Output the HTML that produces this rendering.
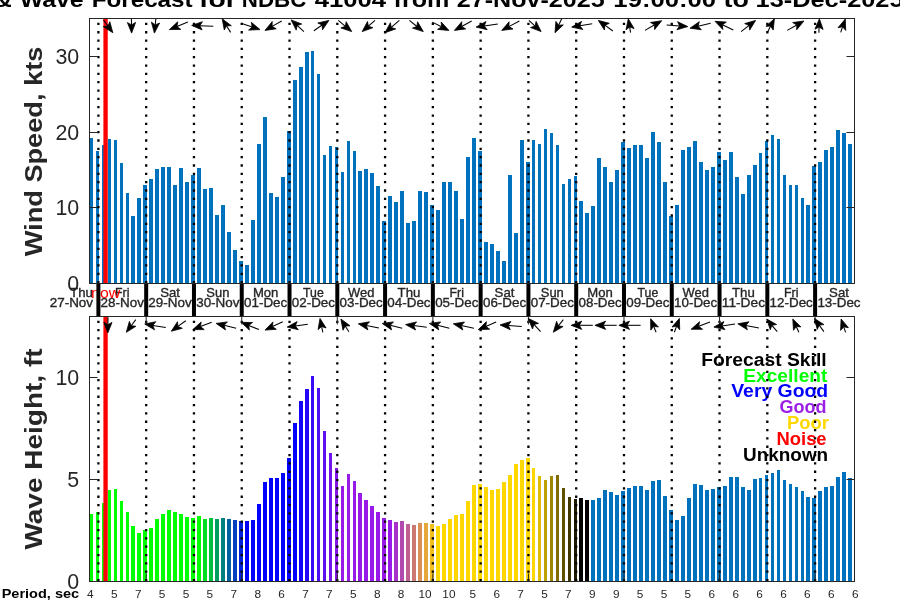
<!DOCTYPE html><html><head><meta charset="utf-8"><style>html,body{margin:0;padding:0;background:#fff;width:900px;height:600px;overflow:hidden}</style></head><body><svg width="900" height="600" viewBox="0 0 900 600" style="display:block;will-change:transform"><rect width="900" height="600" fill="#fff"/><g shape-rendering="crispEdges"><rect x="90" y="137.8" width="3" height="145.2" fill="#0072bd"/><rect x="96" y="150.8" width="3" height="132.2" fill="#0072bd"/><rect x="102" y="145.0" width="3" height="138.0" fill="#0072bd"/><rect x="108" y="139.0" width="3" height="144.0" fill="#0072bd"/><rect x="114" y="140.0" width="3" height="143.0" fill="#0072bd"/><rect x="120" y="163.0" width="3" height="120.0" fill="#0072bd"/><rect x="126" y="193.0" width="3" height="90.0" fill="#0072bd"/><rect x="131" y="216.0" width="4" height="67.0" fill="#0072bd"/><rect x="137" y="198.0" width="4" height="85.0" fill="#0072bd"/><rect x="143" y="185.0" width="4" height="98.0" fill="#0072bd"/><rect x="149" y="179.0" width="4" height="104.0" fill="#0072bd"/><rect x="155" y="169.0" width="4" height="114.0" fill="#0072bd"/><rect x="161" y="167.0" width="4" height="116.0" fill="#0072bd"/><rect x="167" y="167.0" width="4" height="116.0" fill="#0072bd"/><rect x="173" y="185.0" width="4" height="98.0" fill="#0072bd"/><rect x="179" y="168.0" width="4" height="115.0" fill="#0072bd"/><rect x="185" y="182.0" width="4" height="101.0" fill="#0072bd"/><rect x="191" y="175.0" width="4" height="108.0" fill="#0072bd"/><rect x="197" y="168.0" width="4" height="115.0" fill="#0072bd"/><rect x="203" y="189.0" width="4" height="94.0" fill="#0072bd"/><rect x="209" y="188.0" width="4" height="95.0" fill="#0072bd"/><rect x="215" y="215.0" width="4" height="68.0" fill="#0072bd"/><rect x="221" y="205.0" width="4" height="78.0" fill="#0072bd"/><rect x="227" y="232.0" width="4" height="51.0" fill="#0072bd"/><rect x="233" y="250.0" width="4" height="33.0" fill="#0072bd"/><rect x="239" y="261.0" width="4" height="22.0" fill="#0072bd"/><rect x="245" y="265.0" width="4" height="18.0" fill="#0072bd"/><rect x="251" y="220.0" width="4" height="63.0" fill="#0072bd"/><rect x="257" y="144.0" width="4" height="139.0" fill="#0072bd"/><rect x="263" y="117.0" width="4" height="166.0" fill="#0072bd"/><rect x="269" y="193.0" width="4" height="90.0" fill="#0072bd"/><rect x="275" y="197.0" width="4" height="86.0" fill="#0072bd"/><rect x="281" y="177.0" width="4" height="106.0" fill="#0072bd"/><rect x="287" y="131.0" width="4" height="152.0" fill="#0072bd"/><rect x="293" y="80.0" width="4" height="203.0" fill="#0072bd"/><rect x="299" y="66.8" width="4" height="216.2" fill="#0072bd"/><rect x="305" y="52.0" width="4" height="231.0" fill="#0072bd"/><rect x="311" y="51.0" width="3" height="232.0" fill="#0072bd"/><rect x="317" y="74.0" width="3" height="209.0" fill="#0072bd"/><rect x="323" y="155.0" width="3" height="128.0" fill="#0072bd"/><rect x="329" y="146.0" width="3" height="137.0" fill="#0072bd"/><rect x="335" y="147.0" width="3" height="136.0" fill="#0072bd"/><rect x="341" y="172.0" width="3" height="111.0" fill="#0072bd"/><rect x="347" y="141.0" width="3" height="142.0" fill="#0072bd"/><rect x="353" y="151.0" width="3" height="132.0" fill="#0072bd"/><rect x="358" y="171.0" width="4" height="112.0" fill="#0072bd"/><rect x="364" y="169.0" width="4" height="114.0" fill="#0072bd"/><rect x="370" y="173.0" width="4" height="110.0" fill="#0072bd"/><rect x="376" y="186.0" width="4" height="97.0" fill="#0072bd"/><rect x="382" y="221.0" width="4" height="62.0" fill="#0072bd"/><rect x="388" y="196.0" width="4" height="87.0" fill="#0072bd"/><rect x="394" y="202.0" width="4" height="81.0" fill="#0072bd"/><rect x="400" y="191.0" width="4" height="92.0" fill="#0072bd"/><rect x="406" y="223.0" width="4" height="60.0" fill="#0072bd"/><rect x="412" y="221.0" width="4" height="62.0" fill="#0072bd"/><rect x="418" y="191.0" width="4" height="92.0" fill="#0072bd"/><rect x="424" y="192.0" width="4" height="91.0" fill="#0072bd"/><rect x="430" y="205.0" width="4" height="78.0" fill="#0072bd"/><rect x="436" y="210.0" width="4" height="73.0" fill="#0072bd"/><rect x="442" y="182.0" width="4" height="101.0" fill="#0072bd"/><rect x="448" y="182.0" width="4" height="101.0" fill="#0072bd"/><rect x="454" y="191.0" width="4" height="92.0" fill="#0072bd"/><rect x="460" y="219.0" width="4" height="64.0" fill="#0072bd"/><rect x="466" y="157.0" width="4" height="126.0" fill="#0072bd"/><rect x="472" y="138.0" width="4" height="145.0" fill="#0072bd"/><rect x="478" y="151.0" width="4" height="132.0" fill="#0072bd"/><rect x="484" y="242.0" width="4" height="41.0" fill="#0072bd"/><rect x="490" y="244.0" width="4" height="39.0" fill="#0072bd"/><rect x="496" y="251.0" width="4" height="32.0" fill="#0072bd"/><rect x="502" y="261.0" width="4" height="22.0" fill="#0072bd"/><rect x="508" y="175.0" width="4" height="108.0" fill="#0072bd"/><rect x="514" y="233.0" width="4" height="50.0" fill="#0072bd"/><rect x="520" y="140.0" width="4" height="143.0" fill="#0072bd"/><rect x="526" y="162.0" width="4" height="121.0" fill="#0072bd"/><rect x="532" y="140.0" width="3" height="143.0" fill="#0072bd"/><rect x="538" y="144.0" width="3" height="139.0" fill="#0072bd"/><rect x="544" y="129.0" width="3" height="154.0" fill="#0072bd"/><rect x="550" y="133.0" width="3" height="150.0" fill="#0072bd"/><rect x="556" y="145.0" width="3" height="138.0" fill="#0072bd"/><rect x="562" y="184.0" width="3" height="99.0" fill="#0072bd"/><rect x="568" y="179.0" width="3" height="104.0" fill="#0072bd"/><rect x="574" y="176.0" width="3" height="107.0" fill="#0072bd"/><rect x="579" y="201.0" width="4" height="82.0" fill="#0072bd"/><rect x="585" y="213.0" width="4" height="70.0" fill="#0072bd"/><rect x="591" y="206.0" width="4" height="77.0" fill="#0072bd"/><rect x="597" y="158.0" width="4" height="125.0" fill="#0072bd"/><rect x="603" y="167.0" width="4" height="116.0" fill="#0072bd"/><rect x="609" y="182.0" width="4" height="101.0" fill="#0072bd"/><rect x="615" y="170.0" width="4" height="113.0" fill="#0072bd"/><rect x="621" y="142.0" width="4" height="141.0" fill="#0072bd"/><rect x="627" y="148.0" width="4" height="135.0" fill="#0072bd"/><rect x="633" y="145.0" width="4" height="138.0" fill="#0072bd"/><rect x="639" y="145.0" width="4" height="138.0" fill="#0072bd"/><rect x="645" y="158.0" width="4" height="125.0" fill="#0072bd"/><rect x="651" y="132.0" width="4" height="151.0" fill="#0072bd"/><rect x="657" y="142.0" width="4" height="141.0" fill="#0072bd"/><rect x="663" y="182.0" width="4" height="101.0" fill="#0072bd"/><rect x="669" y="216.0" width="4" height="67.0" fill="#0072bd"/><rect x="675" y="205.0" width="4" height="78.0" fill="#0072bd"/><rect x="681" y="150.0" width="4" height="133.0" fill="#0072bd"/><rect x="687" y="147.0" width="4" height="136.0" fill="#0072bd"/><rect x="693" y="141.0" width="4" height="142.0" fill="#0072bd"/><rect x="699" y="162.0" width="4" height="121.0" fill="#0072bd"/><rect x="705" y="170.0" width="4" height="113.0" fill="#0072bd"/><rect x="711" y="167.0" width="4" height="116.0" fill="#0072bd"/><rect x="717" y="152.0" width="4" height="131.0" fill="#0072bd"/><rect x="723" y="160.0" width="4" height="123.0" fill="#0072bd"/><rect x="729" y="152.0" width="4" height="131.0" fill="#0072bd"/><rect x="735" y="177.0" width="4" height="106.0" fill="#0072bd"/><rect x="741" y="194.0" width="4" height="89.0" fill="#0072bd"/><rect x="747" y="175.0" width="4" height="108.0" fill="#0072bd"/><rect x="753" y="165.0" width="4" height="118.0" fill="#0072bd"/><rect x="759" y="153.0" width="3" height="130.0" fill="#0072bd"/><rect x="765" y="141.0" width="3" height="142.0" fill="#0072bd"/><rect x="771" y="135.0" width="3" height="148.0" fill="#0072bd"/><rect x="777" y="139.0" width="3" height="144.0" fill="#0072bd"/><rect x="783" y="175.0" width="3" height="108.0" fill="#0072bd"/><rect x="789" y="185.0" width="3" height="98.0" fill="#0072bd"/><rect x="795" y="185.0" width="3" height="98.0" fill="#0072bd"/><rect x="801" y="198.0" width="3" height="85.0" fill="#0072bd"/><rect x="806" y="205.0" width="4" height="78.0" fill="#0072bd"/><rect x="812" y="166.0" width="4" height="117.0" fill="#0072bd"/><rect x="818" y="162.0" width="4" height="121.0" fill="#0072bd"/><rect x="824" y="150.0" width="4" height="133.0" fill="#0072bd"/><rect x="830" y="147.0" width="4" height="136.0" fill="#0072bd"/><rect x="836" y="130.0" width="4" height="153.0" fill="#0072bd"/><rect x="842" y="133.0" width="4" height="150.0" fill="#0072bd"/><rect x="848" y="144.0" width="4" height="139.0" fill="#0072bd"/><rect x="90" y="514.0" width="3" height="67.0" fill="#00ff00"/><rect x="96" y="512.0" width="3" height="69.0" fill="#00ff00"/><rect x="102" y="503.0" width="3" height="78.0" fill="#00ff00"/><rect x="108" y="490.0" width="3" height="91.0" fill="#00ff00"/><rect x="114" y="489.0" width="3" height="92.0" fill="#00ff00"/><rect x="120" y="501.0" width="3" height="80.0" fill="#00ff00"/><rect x="126" y="512.0" width="3" height="69.0" fill="#00ff00"/><rect x="131" y="526.0" width="4" height="55.0" fill="#00ff00"/><rect x="137" y="533.0" width="4" height="48.0" fill="#00ff00"/><rect x="143" y="530.0" width="4" height="51.0" fill="#00ff00"/><rect x="149" y="528.0" width="4" height="53.0" fill="#00ff00"/><rect x="155" y="519.0" width="4" height="62.0" fill="#00ff00"/><rect x="161" y="514.0" width="4" height="67.0" fill="#00ff00"/><rect x="167" y="510.0" width="4" height="71.0" fill="#00ff00"/><rect x="173" y="512.0" width="4" height="69.0" fill="#00ff00"/><rect x="179" y="514.0" width="4" height="67.0" fill="#00ff00"/><rect x="185" y="517.0" width="4" height="64.0" fill="#00ff00"/><rect x="191" y="518.0" width="4" height="63.0" fill="#00ff00"/><rect x="197" y="516.0" width="4" height="65.0" fill="#00ff00"/><rect x="203" y="519.0" width="4" height="62.0" fill="#00df20"/><rect x="209" y="518.0" width="4" height="63.0" fill="#00bf40"/><rect x="215" y="519.0" width="4" height="62.0" fill="#009f60"/><rect x="221" y="518.0" width="4" height="63.0" fill="#008080"/><rect x="227" y="519.0" width="4" height="62.0" fill="#00609f"/><rect x="233" y="520.0" width="4" height="61.0" fill="#0040bf"/><rect x="239" y="521.0" width="4" height="60.0" fill="#0020df"/><rect x="245" y="521.0" width="4" height="60.0" fill="#0000ff"/><rect x="251" y="520.0" width="4" height="61.0" fill="#0000ff"/><rect x="257" y="504.0" width="4" height="77.0" fill="#0000ff"/><rect x="263" y="482.0" width="4" height="99.0" fill="#0000ff"/><rect x="269" y="478.0" width="4" height="103.0" fill="#0000ff"/><rect x="275" y="478.0" width="4" height="103.0" fill="#0000ff"/><rect x="281" y="473.0" width="4" height="108.0" fill="#0000ff"/><rect x="287" y="458.0" width="4" height="123.0" fill="#0000ff"/><rect x="293" y="423.0" width="4" height="158.0" fill="#0000ff"/><rect x="299" y="401.0" width="4" height="180.0" fill="#1303fc"/><rect x="305" y="389.0" width="4" height="192.0" fill="#2606f9"/><rect x="311" y="376.0" width="3" height="205.0" fill="#390af6"/><rect x="317" y="388.0" width="3" height="193.0" fill="#4c0df2"/><rect x="323" y="431.0" width="3" height="150.0" fill="#6010ef"/><rect x="329" y="453.0" width="3" height="128.0" fill="#7314ec"/><rect x="335" y="468.0" width="3" height="113.0" fill="#8617e9"/><rect x="341" y="486.0" width="3" height="95.0" fill="#991ae6"/><rect x="347" y="474.0" width="3" height="107.0" fill="#991ae6"/><rect x="353" y="481.0" width="3" height="100.0" fill="#991ae6"/><rect x="358" y="493.0" width="4" height="88.0" fill="#991ae6"/><rect x="364" y="500.0" width="4" height="81.0" fill="#991ae6"/><rect x="370" y="506.0" width="4" height="75.0" fill="#991ae6"/><rect x="376" y="512.0" width="4" height="69.0" fill="#991ae6"/><rect x="382" y="518.0" width="4" height="63.0" fill="#991ae6"/><rect x="388" y="520.0" width="4" height="61.0" fill="#991ae6"/><rect x="394" y="522.0" width="4" height="59.0" fill="#a632c9"/><rect x="400" y="521.0" width="4" height="60.0" fill="#b249ac"/><rect x="406" y="524.0" width="4" height="57.0" fill="#bf6190"/><rect x="412" y="525.0" width="4" height="56.0" fill="#cc7873"/><rect x="418" y="523.0" width="4" height="58.0" fill="#d99056"/><rect x="424" y="523.0" width="4" height="58.0" fill="#e6a83a"/><rect x="430" y="524.0" width="4" height="57.0" fill="#f2bf1d"/><rect x="436" y="526.0" width="4" height="55.0" fill="#ffd700"/><rect x="442" y="524.0" width="4" height="57.0" fill="#ffd700"/><rect x="448" y="519.0" width="4" height="62.0" fill="#ffd700"/><rect x="454" y="515.0" width="4" height="66.0" fill="#ffd700"/><rect x="460" y="514.0" width="4" height="67.0" fill="#ffd700"/><rect x="466" y="501.0" width="4" height="80.0" fill="#ffd700"/><rect x="472" y="485.0" width="4" height="96.0" fill="#ffd700"/><rect x="478" y="484.0" width="4" height="97.0" fill="#ffd700"/><rect x="484" y="487.0" width="4" height="94.0" fill="#ffd700"/><rect x="490" y="490.0" width="4" height="91.0" fill="#ffd700"/><rect x="496" y="489.0" width="4" height="92.0" fill="#ffd700"/><rect x="502" y="482.0" width="4" height="99.0" fill="#ffd700"/><rect x="508" y="475.0" width="4" height="106.0" fill="#ffd700"/><rect x="514" y="464.0" width="4" height="117.0" fill="#ffd700"/><rect x="520" y="460.0" width="4" height="121.0" fill="#ffd700"/><rect x="526" y="458.0" width="4" height="123.0" fill="#ffd700"/><rect x="532" y="468.0" width="3" height="113.0" fill="#ffd700"/><rect x="538" y="476.0" width="3" height="105.0" fill="#dfbc00"/><rect x="544" y="480.0" width="3" height="101.0" fill="#bfa100"/><rect x="550" y="476.0" width="3" height="105.0" fill="#9f8600"/><rect x="556" y="475.0" width="3" height="106.0" fill="#806c00"/><rect x="562" y="488.0" width="3" height="93.0" fill="#605100"/><rect x="568" y="497.0" width="3" height="84.0" fill="#403600"/><rect x="574" y="499.0" width="3" height="82.0" fill="#201b00"/><rect x="579" y="498.0" width="4" height="83.0" fill="#000000"/><rect x="585" y="500.0" width="4" height="81.0" fill="#000000"/><rect x="591" y="500.0" width="4" height="81.0" fill="#0072bd"/><rect x="597" y="498.0" width="4" height="83.0" fill="#0072bd"/><rect x="603" y="490.0" width="4" height="91.0" fill="#0072bd"/><rect x="609" y="492.0" width="4" height="89.0" fill="#0072bd"/><rect x="615" y="495.0" width="4" height="86.0" fill="#0072bd"/><rect x="621" y="491.0" width="4" height="90.0" fill="#0072bd"/><rect x="627" y="488.0" width="4" height="93.0" fill="#0072bd"/><rect x="633" y="486.0" width="4" height="95.0" fill="#0072bd"/><rect x="639" y="486.0" width="4" height="95.0" fill="#0072bd"/><rect x="645" y="490.0" width="4" height="91.0" fill="#0072bd"/><rect x="651" y="481.0" width="4" height="100.0" fill="#0072bd"/><rect x="657" y="480.0" width="4" height="101.0" fill="#0072bd"/><rect x="663" y="496.0" width="4" height="85.0" fill="#0072bd"/><rect x="669" y="510.0" width="4" height="71.0" fill="#0072bd"/><rect x="675" y="520.0" width="4" height="61.0" fill="#0072bd"/><rect x="681" y="516.0" width="4" height="65.0" fill="#0072bd"/><rect x="687" y="498.0" width="4" height="83.0" fill="#0072bd"/><rect x="693" y="484.0" width="4" height="97.0" fill="#0072bd"/><rect x="699" y="485.0" width="4" height="96.0" fill="#0072bd"/><rect x="705" y="490.0" width="4" height="91.0" fill="#0072bd"/><rect x="711" y="489.0" width="4" height="92.0" fill="#0072bd"/><rect x="717" y="487.0" width="4" height="94.0" fill="#0072bd"/><rect x="723" y="486.0" width="4" height="95.0" fill="#0072bd"/><rect x="729" y="477.0" width="4" height="104.0" fill="#0072bd"/><rect x="735" y="477.0" width="4" height="104.0" fill="#0072bd"/><rect x="741" y="487.0" width="4" height="94.0" fill="#0072bd"/><rect x="747" y="490.0" width="4" height="91.0" fill="#0072bd"/><rect x="753" y="479.0" width="4" height="102.0" fill="#0072bd"/><rect x="759" y="478.0" width="3" height="103.0" fill="#0072bd"/><rect x="765" y="475.0" width="3" height="106.0" fill="#0072bd"/><rect x="771" y="473.0" width="3" height="108.0" fill="#0072bd"/><rect x="777" y="470.0" width="3" height="111.0" fill="#0072bd"/><rect x="783" y="480.0" width="3" height="101.0" fill="#0072bd"/><rect x="789" y="484.0" width="3" height="97.0" fill="#0072bd"/><rect x="795" y="487.0" width="3" height="94.0" fill="#0072bd"/><rect x="801" y="491.0" width="3" height="90.0" fill="#0072bd"/><rect x="806" y="497.0" width="4" height="84.0" fill="#0072bd"/><rect x="812" y="498.0" width="4" height="83.0" fill="#0072bd"/><rect x="818" y="491.0" width="4" height="90.0" fill="#0072bd"/><rect x="824" y="487.0" width="4" height="94.0" fill="#0072bd"/><rect x="830" y="486.0" width="4" height="95.0" fill="#0072bd"/><rect x="836" y="477.0" width="4" height="104.0" fill="#0072bd"/><rect x="842" y="472.0" width="4" height="109.0" fill="#0072bd"/><rect x="848" y="478.0" width="4" height="103.0" fill="#0072bd"/></g><rect x="103.4" y="18" width="4.35" height="265" fill="#ff0000"/><rect x="103.4" y="316" width="4.35" height="265" fill="#ff0000"/><text x="701.25" y="365.80" font-family="&#39;Liberation Sans&#39;, sans-serif" font-weight="bold" font-size="18.04" fill="#000000" textLength="125.35" lengthAdjust="spacingAndGlyphs">Forecast Skill</text><text x="743.30" y="381.60" font-family="&#39;Liberation Sans&#39;, sans-serif" font-weight="bold" font-size="18.04" fill="#00ff00" textLength="84.10" lengthAdjust="spacingAndGlyphs">Excellent</text><text x="731.25" y="397.40" font-family="&#39;Liberation Sans&#39;, sans-serif" font-weight="bold" font-size="18.04" fill="#0000ff" textLength="96.96" lengthAdjust="spacingAndGlyphs">Very Good</text><text x="779.60" y="413.20" font-family="&#39;Liberation Sans&#39;, sans-serif" font-weight="bold" font-size="18.04" fill="#9a1ee6" textLength="47.01" lengthAdjust="spacingAndGlyphs">Good</text><text x="786.90" y="429.00" font-family="&#39;Liberation Sans&#39;, sans-serif" font-weight="bold" font-size="18.04" fill="#ffd700" textLength="42.10" lengthAdjust="spacingAndGlyphs">Poor</text><text x="776.50" y="444.80" font-family="&#39;Liberation Sans&#39;, sans-serif" font-weight="bold" font-size="18.04" fill="#ff0000" textLength="50.10" lengthAdjust="spacingAndGlyphs">Noise</text><text x="743.00" y="460.60" font-family="&#39;Liberation Sans&#39;, sans-serif" font-weight="bold" font-size="18.04" fill="#000000" textLength="85.19" lengthAdjust="spacingAndGlyphs">Unknown</text><text x="67.30" y="291.20" font-family="&#39;Liberation Sans&#39;, sans-serif" font-size="22.30" fill="#262626" textLength="11.90" lengthAdjust="spacingAndGlyphs">0</text><text x="55.40" y="215.49" font-family="&#39;Liberation Sans&#39;, sans-serif" font-size="22.30" fill="#262626" textLength="23.81" lengthAdjust="spacingAndGlyphs">10</text><text x="55.40" y="139.77" font-family="&#39;Liberation Sans&#39;, sans-serif" font-size="22.30" fill="#262626" textLength="23.81" lengthAdjust="spacingAndGlyphs">20</text><text x="55.40" y="64.06" font-family="&#39;Liberation Sans&#39;, sans-serif" font-size="22.30" fill="#262626" textLength="23.81" lengthAdjust="spacingAndGlyphs">30</text><text x="67.30" y="589.20" font-family="&#39;Liberation Sans&#39;, sans-serif" font-size="22.30" fill="#262626" textLength="11.90" lengthAdjust="spacingAndGlyphs">0</text><text x="67.30" y="487.28" font-family="&#39;Liberation Sans&#39;, sans-serif" font-size="22.30" fill="#262626" textLength="11.90" lengthAdjust="spacingAndGlyphs">5</text><text x="55.40" y="385.35" font-family="&#39;Liberation Sans&#39;, sans-serif" font-size="22.30" fill="#262626" textLength="23.81" lengthAdjust="spacingAndGlyphs">10</text><text transform="translate(42,151.5) rotate(-90)" x="-104.83" y="0.00" font-family="&#39;Liberation Sans&#39;, sans-serif" font-weight="bold" font-size="23.94" fill="#262626" textLength="209.68" lengthAdjust="spacingAndGlyphs">Wind Speed, kts</text><text transform="translate(42,449) rotate(-90)" x="-100.61" y="0.00" font-family="&#39;Liberation Sans&#39;, sans-serif" font-weight="bold" font-size="23.94" fill="#262626" textLength="201.20" lengthAdjust="spacingAndGlyphs">Wave Height, ft</text><text x="70.12" y="296.60" font-family="&#39;Liberation Sans&#39;, sans-serif" stroke="#262626" stroke-width="0.35" font-size="13.19" fill="#262626" textLength="22.76" lengthAdjust="spacingAndGlyphs">Thu</text><text x="49.71" y="306.70" font-family="&#39;Liberation Sans&#39;, sans-serif" stroke="#262626" stroke-width="0.35" font-size="13.19" fill="#262626" textLength="43.37" lengthAdjust="spacingAndGlyphs">27-Nov</text><text x="115.08" y="296.60" font-family="&#39;Liberation Sans&#39;, sans-serif" stroke="#262626" stroke-width="0.35" font-size="13.19" fill="#262626" textLength="14.41" lengthAdjust="spacingAndGlyphs">Fri</text><text x="100.60" y="306.70" font-family="&#39;Liberation Sans&#39;, sans-serif" stroke="#262626" stroke-width="0.35" font-size="13.19" fill="#262626" textLength="43.37" lengthAdjust="spacingAndGlyphs">28-Nov</text><text x="160.15" y="296.60" font-family="&#39;Liberation Sans&#39;, sans-serif" stroke="#262626" stroke-width="0.35" font-size="13.19" fill="#262626" textLength="19.84" lengthAdjust="spacingAndGlyphs">Sat</text><text x="148.38" y="306.70" font-family="&#39;Liberation Sans&#39;, sans-serif" stroke="#262626" stroke-width="0.35" font-size="13.19" fill="#262626" textLength="43.37" lengthAdjust="spacingAndGlyphs">29-Nov</text><text x="206.34" y="296.60" font-family="&#39;Liberation Sans&#39;, sans-serif" stroke="#262626" stroke-width="0.35" font-size="13.19" fill="#262626" textLength="23.02" lengthAdjust="spacingAndGlyphs">Sun</text><text x="196.16" y="306.70" font-family="&#39;Liberation Sans&#39;, sans-serif" stroke="#262626" stroke-width="0.35" font-size="13.19" fill="#262626" textLength="43.37" lengthAdjust="spacingAndGlyphs">30-Nov</text><text x="252.88" y="296.60" font-family="&#39;Liberation Sans&#39;, sans-serif" stroke="#262626" stroke-width="0.35" font-size="13.19" fill="#262626" textLength="25.51" lengthAdjust="spacingAndGlyphs">Mon</text><text x="244.04" y="306.70" font-family="&#39;Liberation Sans&#39;, sans-serif" stroke="#262626" stroke-width="0.35" font-size="13.19" fill="#262626" textLength="43.17" lengthAdjust="spacingAndGlyphs">01-Dec</text><text x="303.06" y="296.60" font-family="&#39;Liberation Sans&#39;, sans-serif" stroke="#262626" stroke-width="0.35" font-size="13.19" fill="#262626" textLength="20.70" lengthAdjust="spacingAndGlyphs">Tue</text><text x="291.82" y="306.70" font-family="&#39;Liberation Sans&#39;, sans-serif" stroke="#262626" stroke-width="0.35" font-size="13.19" fill="#262626" textLength="43.17" lengthAdjust="spacingAndGlyphs">02-Dec</text><text x="348.00" y="296.60" font-family="&#39;Liberation Sans&#39;, sans-serif" stroke="#262626" stroke-width="0.35" font-size="13.19" fill="#262626" textLength="26.38" lengthAdjust="spacingAndGlyphs">Wed</text><text x="339.60" y="306.70" font-family="&#39;Liberation Sans&#39;, sans-serif" stroke="#262626" stroke-width="0.35" font-size="13.19" fill="#262626" textLength="43.17" lengthAdjust="spacingAndGlyphs">03-Dec</text><text x="397.59" y="296.60" font-family="&#39;Liberation Sans&#39;, sans-serif" stroke="#262626" stroke-width="0.35" font-size="13.19" fill="#262626" textLength="22.76" lengthAdjust="spacingAndGlyphs">Thu</text><text x="387.38" y="306.70" font-family="&#39;Liberation Sans&#39;, sans-serif" stroke="#262626" stroke-width="0.35" font-size="13.19" fill="#262626" textLength="43.17" lengthAdjust="spacingAndGlyphs">04-Dec</text><text x="449.54" y="296.60" font-family="&#39;Liberation Sans&#39;, sans-serif" stroke="#262626" stroke-width="0.35" font-size="13.19" fill="#262626" textLength="14.41" lengthAdjust="spacingAndGlyphs">Fri</text><text x="435.16" y="306.70" font-family="&#39;Liberation Sans&#39;, sans-serif" stroke="#262626" stroke-width="0.35" font-size="13.19" fill="#262626" textLength="43.17" lengthAdjust="spacingAndGlyphs">05-Dec</text><text x="494.61" y="296.60" font-family="&#39;Liberation Sans&#39;, sans-serif" stroke="#262626" stroke-width="0.35" font-size="13.19" fill="#262626" textLength="19.84" lengthAdjust="spacingAndGlyphs">Sat</text><text x="482.94" y="306.70" font-family="&#39;Liberation Sans&#39;, sans-serif" stroke="#262626" stroke-width="0.35" font-size="13.19" fill="#262626" textLength="43.17" lengthAdjust="spacingAndGlyphs">06-Dec</text><text x="540.80" y="296.60" font-family="&#39;Liberation Sans&#39;, sans-serif" stroke="#262626" stroke-width="0.35" font-size="13.19" fill="#262626" textLength="23.02" lengthAdjust="spacingAndGlyphs">Sun</text><text x="530.72" y="306.70" font-family="&#39;Liberation Sans&#39;, sans-serif" stroke="#262626" stroke-width="0.35" font-size="13.19" fill="#262626" textLength="43.17" lengthAdjust="spacingAndGlyphs">07-Dec</text><text x="587.34" y="296.60" font-family="&#39;Liberation Sans&#39;, sans-serif" stroke="#262626" stroke-width="0.35" font-size="13.19" fill="#262626" textLength="25.51" lengthAdjust="spacingAndGlyphs">Mon</text><text x="578.50" y="306.70" font-family="&#39;Liberation Sans&#39;, sans-serif" stroke="#262626" stroke-width="0.35" font-size="13.19" fill="#262626" textLength="43.17" lengthAdjust="spacingAndGlyphs">08-Dec</text><text x="637.52" y="296.60" font-family="&#39;Liberation Sans&#39;, sans-serif" stroke="#262626" stroke-width="0.35" font-size="13.19" fill="#262626" textLength="20.70" lengthAdjust="spacingAndGlyphs">Tue</text><text x="626.28" y="306.70" font-family="&#39;Liberation Sans&#39;, sans-serif" stroke="#262626" stroke-width="0.35" font-size="13.19" fill="#262626" textLength="43.17" lengthAdjust="spacingAndGlyphs">09-Dec</text><text x="682.46" y="296.60" font-family="&#39;Liberation Sans&#39;, sans-serif" stroke="#262626" stroke-width="0.35" font-size="13.19" fill="#262626" textLength="26.38" lengthAdjust="spacingAndGlyphs">Wed</text><text x="674.06" y="306.70" font-family="&#39;Liberation Sans&#39;, sans-serif" stroke="#262626" stroke-width="0.35" font-size="13.19" fill="#262626" textLength="43.17" lengthAdjust="spacingAndGlyphs">10-Dec</text><text x="732.05" y="296.60" font-family="&#39;Liberation Sans&#39;, sans-serif" stroke="#262626" stroke-width="0.35" font-size="13.19" fill="#262626" textLength="22.76" lengthAdjust="spacingAndGlyphs">Thu</text><text x="721.84" y="306.70" font-family="&#39;Liberation Sans&#39;, sans-serif" stroke="#262626" stroke-width="0.35" font-size="13.19" fill="#262626" textLength="43.18" lengthAdjust="spacingAndGlyphs">11-Dec</text><text x="784.00" y="296.60" font-family="&#39;Liberation Sans&#39;, sans-serif" stroke="#262626" stroke-width="0.35" font-size="13.19" fill="#262626" textLength="14.41" lengthAdjust="spacingAndGlyphs">Fri</text><text x="769.62" y="306.70" font-family="&#39;Liberation Sans&#39;, sans-serif" stroke="#262626" stroke-width="0.35" font-size="13.19" fill="#262626" textLength="43.17" lengthAdjust="spacingAndGlyphs">12-Dec</text><text x="829.07" y="296.60" font-family="&#39;Liberation Sans&#39;, sans-serif" stroke="#262626" stroke-width="0.35" font-size="13.19" fill="#262626" textLength="19.84" lengthAdjust="spacingAndGlyphs">Sat</text><text x="817.40" y="306.70" font-family="&#39;Liberation Sans&#39;, sans-serif" stroke="#262626" stroke-width="0.35" font-size="13.19" fill="#262626" textLength="43.17" lengthAdjust="spacingAndGlyphs">13-Dec</text><text x="91.10" y="297.70" font-family="&#39;Liberation Sans&#39;, sans-serif" font-size="14.86" fill="#ff0000" textLength="29.15" lengthAdjust="spacingAndGlyphs">now</text><text x="1.70" y="597.80" font-family="&#39;Liberation Sans&#39;, sans-serif" font-weight="bold" font-size="13.02" fill="#000000" textLength="77.42" lengthAdjust="spacingAndGlyphs">Period, sec</text><text x="87.12" y="597.80" font-family="&#39;Liberation Sans&#39;, sans-serif" font-size="10.82" fill="#262626" textLength="6.55" lengthAdjust="spacingAndGlyphs">4</text><text x="111.02" y="597.80" font-family="&#39;Liberation Sans&#39;, sans-serif" font-size="10.82" fill="#262626" textLength="6.55" lengthAdjust="spacingAndGlyphs">5</text><text x="134.92" y="597.80" font-family="&#39;Liberation Sans&#39;, sans-serif" font-size="10.82" fill="#262626" textLength="6.55" lengthAdjust="spacingAndGlyphs">7</text><text x="158.82" y="597.80" font-family="&#39;Liberation Sans&#39;, sans-serif" font-size="10.82" fill="#262626" textLength="6.55" lengthAdjust="spacingAndGlyphs">5</text><text x="182.72" y="597.80" font-family="&#39;Liberation Sans&#39;, sans-serif" font-size="10.82" fill="#262626" textLength="6.55" lengthAdjust="spacingAndGlyphs">5</text><text x="206.62" y="597.80" font-family="&#39;Liberation Sans&#39;, sans-serif" font-size="10.82" fill="#262626" textLength="6.55" lengthAdjust="spacingAndGlyphs">5</text><text x="230.52" y="597.80" font-family="&#39;Liberation Sans&#39;, sans-serif" font-size="10.82" fill="#262626" textLength="6.55" lengthAdjust="spacingAndGlyphs">7</text><text x="254.42" y="597.80" font-family="&#39;Liberation Sans&#39;, sans-serif" font-size="10.82" fill="#262626" textLength="6.55" lengthAdjust="spacingAndGlyphs">8</text><text x="278.32" y="597.80" font-family="&#39;Liberation Sans&#39;, sans-serif" font-size="10.82" fill="#262626" textLength="6.55" lengthAdjust="spacingAndGlyphs">6</text><text x="302.22" y="597.80" font-family="&#39;Liberation Sans&#39;, sans-serif" font-size="10.82" fill="#262626" textLength="6.55" lengthAdjust="spacingAndGlyphs">7</text><text x="326.12" y="597.80" font-family="&#39;Liberation Sans&#39;, sans-serif" font-size="10.82" fill="#262626" textLength="6.55" lengthAdjust="spacingAndGlyphs">7</text><text x="350.02" y="597.80" font-family="&#39;Liberation Sans&#39;, sans-serif" font-size="10.82" fill="#262626" textLength="6.55" lengthAdjust="spacingAndGlyphs">5</text><text x="373.92" y="597.80" font-family="&#39;Liberation Sans&#39;, sans-serif" font-size="10.82" fill="#262626" textLength="6.55" lengthAdjust="spacingAndGlyphs">8</text><text x="397.82" y="597.80" font-family="&#39;Liberation Sans&#39;, sans-serif" font-size="10.82" fill="#262626" textLength="6.55" lengthAdjust="spacingAndGlyphs">8</text><text x="418.45" y="597.80" font-family="&#39;Liberation Sans&#39;, sans-serif" font-size="10.82" fill="#262626" textLength="13.11" lengthAdjust="spacingAndGlyphs">10</text><text x="442.35" y="597.80" font-family="&#39;Liberation Sans&#39;, sans-serif" font-size="10.82" fill="#262626" textLength="13.11" lengthAdjust="spacingAndGlyphs">10</text><text x="469.52" y="597.80" font-family="&#39;Liberation Sans&#39;, sans-serif" font-size="10.82" fill="#262626" textLength="6.55" lengthAdjust="spacingAndGlyphs">5</text><text x="493.42" y="597.80" font-family="&#39;Liberation Sans&#39;, sans-serif" font-size="10.82" fill="#262626" textLength="6.55" lengthAdjust="spacingAndGlyphs">6</text><text x="517.32" y="597.80" font-family="&#39;Liberation Sans&#39;, sans-serif" font-size="10.82" fill="#262626" textLength="6.55" lengthAdjust="spacingAndGlyphs">7</text><text x="541.22" y="597.80" font-family="&#39;Liberation Sans&#39;, sans-serif" font-size="10.82" fill="#262626" textLength="6.55" lengthAdjust="spacingAndGlyphs">5</text><text x="565.12" y="597.80" font-family="&#39;Liberation Sans&#39;, sans-serif" font-size="10.82" fill="#262626" textLength="6.55" lengthAdjust="spacingAndGlyphs">7</text><text x="589.02" y="597.80" font-family="&#39;Liberation Sans&#39;, sans-serif" font-size="10.82" fill="#262626" textLength="6.55" lengthAdjust="spacingAndGlyphs">9</text><text x="612.92" y="597.80" font-family="&#39;Liberation Sans&#39;, sans-serif" font-size="10.82" fill="#262626" textLength="6.55" lengthAdjust="spacingAndGlyphs">9</text><text x="636.82" y="597.80" font-family="&#39;Liberation Sans&#39;, sans-serif" font-size="10.82" fill="#262626" textLength="6.55" lengthAdjust="spacingAndGlyphs">5</text><text x="660.72" y="597.80" font-family="&#39;Liberation Sans&#39;, sans-serif" font-size="10.82" fill="#262626" textLength="6.55" lengthAdjust="spacingAndGlyphs">5</text><text x="684.62" y="597.80" font-family="&#39;Liberation Sans&#39;, sans-serif" font-size="10.82" fill="#262626" textLength="6.55" lengthAdjust="spacingAndGlyphs">5</text><text x="708.52" y="597.80" font-family="&#39;Liberation Sans&#39;, sans-serif" font-size="10.82" fill="#262626" textLength="6.55" lengthAdjust="spacingAndGlyphs">6</text><text x="732.42" y="597.80" font-family="&#39;Liberation Sans&#39;, sans-serif" font-size="10.82" fill="#262626" textLength="6.55" lengthAdjust="spacingAndGlyphs">6</text><text x="756.32" y="597.80" font-family="&#39;Liberation Sans&#39;, sans-serif" font-size="10.82" fill="#262626" textLength="6.55" lengthAdjust="spacingAndGlyphs">6</text><text x="780.22" y="597.80" font-family="&#39;Liberation Sans&#39;, sans-serif" font-size="10.82" fill="#262626" textLength="6.55" lengthAdjust="spacingAndGlyphs">6</text><text x="804.12" y="597.80" font-family="&#39;Liberation Sans&#39;, sans-serif" font-size="10.82" fill="#262626" textLength="6.55" lengthAdjust="spacingAndGlyphs">6</text><text x="828.02" y="597.80" font-family="&#39;Liberation Sans&#39;, sans-serif" font-size="10.82" fill="#262626" textLength="6.55" lengthAdjust="spacingAndGlyphs">6</text><text x="851.92" y="597.80" font-family="&#39;Liberation Sans&#39;, sans-serif" font-size="10.82" fill="#262626" textLength="6.55" lengthAdjust="spacingAndGlyphs">6</text><text x="-6.41" y="6.95" font-family="&#39;Liberation Sans&#39;, sans-serif" font-weight="bold" font-size="22.0" fill="#000" textLength="18.30" lengthAdjust="spacingAndGlyphs">&amp;</text><text x="19.72" y="6.95" font-family="&#39;Liberation Sans&#39;, sans-serif" font-weight="bold" font-size="22.0" fill="#000" textLength="63.94" lengthAdjust="spacingAndGlyphs">Wave</text><text x="91.65" y="6.95" font-family="&#39;Liberation Sans&#39;, sans-serif" font-weight="bold" font-size="22.0" fill="#000" textLength="100.98" lengthAdjust="spacingAndGlyphs">Forecast</text><text x="199.00" y="6.95" font-family="&#39;Liberation Sans&#39;, sans-serif" font-weight="bold" font-size="22.0" fill="#000" textLength="37.76" lengthAdjust="spacingAndGlyphs">for</text><text x="241.78" y="6.95" font-family="&#39;Liberation Sans&#39;, sans-serif" font-weight="bold" font-size="22.0" fill="#000" textLength="64.58" lengthAdjust="spacingAndGlyphs">NDBC</text><text x="314.65" y="6.95" font-family="&#39;Liberation Sans&#39;, sans-serif" font-weight="bold" font-size="22.0" fill="#000" textLength="71.36" lengthAdjust="spacingAndGlyphs">41004</text><text x="393.60" y="6.95" font-family="&#39;Liberation Sans&#39;, sans-serif" font-weight="bold" font-size="22.0" fill="#000" textLength="55.78" lengthAdjust="spacingAndGlyphs">from</text><text x="456.89" y="6.95" font-family="&#39;Liberation Sans&#39;, sans-serif" font-weight="bold" font-size="22.0" fill="#000" textLength="147.73" lengthAdjust="spacingAndGlyphs">27-Nov-2025</text><text x="613.37" y="6.95" font-family="&#39;Liberation Sans&#39;, sans-serif" font-weight="bold" font-size="22.0" fill="#000" textLength="102.76" lengthAdjust="spacingAndGlyphs">19:00:00</text><text x="723.53" y="6.95" font-family="&#39;Liberation Sans&#39;, sans-serif" font-weight="bold" font-size="22.0" fill="#000" textLength="25.33" lengthAdjust="spacingAndGlyphs">to</text><text x="755.59" y="6.95" font-family="&#39;Liberation Sans&#39;, sans-serif" font-weight="bold" font-size="22.0" fill="#000" textLength="147.94" lengthAdjust="spacingAndGlyphs">13-Dec-2025</text><line x1="98.40" y1="22.75" x2="98.40" y2="283" stroke="#000" stroke-width="2.3" stroke-dasharray="2.3 6.03"/><line x1="98.40" y1="320.65" x2="98.40" y2="581" stroke="#000" stroke-width="2.3" stroke-dasharray="2.3 6.03"/><rect x="96.40" y="283" width="4" height="33" fill="#000"/><line x1="146.18" y1="22.75" x2="146.18" y2="283" stroke="#000" stroke-width="2.3" stroke-dasharray="2.3 6.03"/><line x1="146.18" y1="320.65" x2="146.18" y2="581" stroke="#000" stroke-width="2.3" stroke-dasharray="2.3 6.03"/><rect x="144.18" y="283" width="4" height="33" fill="#000"/><line x1="193.96" y1="22.75" x2="193.96" y2="283" stroke="#000" stroke-width="2.3" stroke-dasharray="2.3 6.03"/><line x1="193.96" y1="320.65" x2="193.96" y2="581" stroke="#000" stroke-width="2.3" stroke-dasharray="2.3 6.03"/><rect x="191.96" y="283" width="4" height="33" fill="#000"/><line x1="241.74" y1="22.75" x2="241.74" y2="283" stroke="#000" stroke-width="2.3" stroke-dasharray="2.3 6.03"/><line x1="241.74" y1="320.65" x2="241.74" y2="581" stroke="#000" stroke-width="2.3" stroke-dasharray="2.3 6.03"/><rect x="239.74" y="283" width="4" height="33" fill="#000"/><line x1="289.52" y1="22.75" x2="289.52" y2="283" stroke="#000" stroke-width="2.3" stroke-dasharray="2.3 6.03"/><line x1="289.52" y1="320.65" x2="289.52" y2="581" stroke="#000" stroke-width="2.3" stroke-dasharray="2.3 6.03"/><rect x="287.52" y="283" width="4" height="33" fill="#000"/><line x1="337.30" y1="22.75" x2="337.30" y2="283" stroke="#000" stroke-width="2.3" stroke-dasharray="2.3 6.03"/><line x1="337.30" y1="320.65" x2="337.30" y2="581" stroke="#000" stroke-width="2.3" stroke-dasharray="2.3 6.03"/><rect x="335.30" y="283" width="4" height="33" fill="#000"/><line x1="385.08" y1="22.75" x2="385.08" y2="283" stroke="#000" stroke-width="2.3" stroke-dasharray="2.3 6.03"/><line x1="385.08" y1="320.65" x2="385.08" y2="581" stroke="#000" stroke-width="2.3" stroke-dasharray="2.3 6.03"/><rect x="383.08" y="283" width="4" height="33" fill="#000"/><line x1="432.86" y1="22.75" x2="432.86" y2="283" stroke="#000" stroke-width="2.3" stroke-dasharray="2.3 6.03"/><line x1="432.86" y1="320.65" x2="432.86" y2="581" stroke="#000" stroke-width="2.3" stroke-dasharray="2.3 6.03"/><rect x="430.86" y="283" width="4" height="33" fill="#000"/><line x1="480.64" y1="22.75" x2="480.64" y2="283" stroke="#000" stroke-width="2.3" stroke-dasharray="2.3 6.03"/><line x1="480.64" y1="320.65" x2="480.64" y2="581" stroke="#000" stroke-width="2.3" stroke-dasharray="2.3 6.03"/><rect x="478.64" y="283" width="4" height="33" fill="#000"/><line x1="528.42" y1="22.75" x2="528.42" y2="283" stroke="#000" stroke-width="2.3" stroke-dasharray="2.3 6.03"/><line x1="528.42" y1="320.65" x2="528.42" y2="581" stroke="#000" stroke-width="2.3" stroke-dasharray="2.3 6.03"/><rect x="526.42" y="283" width="4" height="33" fill="#000"/><line x1="576.20" y1="22.75" x2="576.20" y2="283" stroke="#000" stroke-width="2.3" stroke-dasharray="2.3 6.03"/><line x1="576.20" y1="320.65" x2="576.20" y2="581" stroke="#000" stroke-width="2.3" stroke-dasharray="2.3 6.03"/><rect x="574.20" y="283" width="4" height="33" fill="#000"/><line x1="623.98" y1="22.75" x2="623.98" y2="283" stroke="#000" stroke-width="2.3" stroke-dasharray="2.3 6.03"/><line x1="623.98" y1="320.65" x2="623.98" y2="581" stroke="#000" stroke-width="2.3" stroke-dasharray="2.3 6.03"/><rect x="621.98" y="283" width="4" height="33" fill="#000"/><line x1="671.76" y1="22.75" x2="671.76" y2="283" stroke="#000" stroke-width="2.3" stroke-dasharray="2.3 6.03"/><line x1="671.76" y1="320.65" x2="671.76" y2="581" stroke="#000" stroke-width="2.3" stroke-dasharray="2.3 6.03"/><rect x="669.76" y="283" width="4" height="33" fill="#000"/><line x1="719.54" y1="22.75" x2="719.54" y2="283" stroke="#000" stroke-width="2.3" stroke-dasharray="2.3 6.03"/><line x1="719.54" y1="320.65" x2="719.54" y2="581" stroke="#000" stroke-width="2.3" stroke-dasharray="2.3 6.03"/><rect x="717.54" y="283" width="4" height="33" fill="#000"/><line x1="767.32" y1="22.75" x2="767.32" y2="283" stroke="#000" stroke-width="2.3" stroke-dasharray="2.3 6.03"/><line x1="767.32" y1="320.65" x2="767.32" y2="581" stroke="#000" stroke-width="2.3" stroke-dasharray="2.3 6.03"/><rect x="765.32" y="283" width="4" height="33" fill="#000"/><line x1="815.10" y1="22.75" x2="815.10" y2="283" stroke="#000" stroke-width="2.3" stroke-dasharray="2.3 6.03"/><line x1="815.10" y1="320.65" x2="815.10" y2="581" stroke="#000" stroke-width="2.3" stroke-dasharray="2.3 6.03"/><rect x="813.10" y="283" width="4" height="33" fill="#000"/><g fill="none" stroke="#262626" stroke-width="1" shape-rendering="crispEdges"><rect x="89.5" y="18.5" width="765" height="265"/><rect x="89.5" y="316.5" width="765" height="265"/></g><path d="M89.5 56.50H97.5M854.5 56.50H846.5M89.5 132.50H97.5M854.5 132.50H846.5M89.5 207.50H97.5M854.5 207.50H846.5M89.5 377.50H97.5M854.5 377.50H846.5M89.5 479.50H97.5M854.5 479.50H846.5M146.18 316.5V324.5M146.18 581.5V573.5M241.74 316.5V324.5M241.74 581.5V573.5M337.30 316.5V324.5M337.30 581.5V573.5M432.86 316.5V324.5M432.86 581.5V573.5M528.42 316.5V324.5M528.42 581.5V573.5M623.98 316.5V324.5M623.98 581.5V573.5M719.54 316.5V324.5M719.54 581.5V573.5M815.10 316.5V324.5M815.10 581.5V573.5" stroke="#262626" stroke-width="1" fill="none"/><path d="M103.4 19.9L107.9 26.1" stroke="#000" stroke-width="1.05"/><path d="M112.8 32.7L103.2 26.6L107.9 26.1L109.8 21.7Z" fill="#000" stroke="#000" stroke-width="0.8" stroke-linejoin="miter"/><path d="M131.4 18.7L131.5 24.9" stroke="#000" stroke-width="1.05"/><path d="M131.6 33.1L127.4 22.6L131.5 24.9L135.6 22.4Z" fill="#000" stroke="#000" stroke-width="0.8" stroke-linejoin="miter"/><path d="M155.9 18.5L155.2 24.9" stroke="#000" stroke-width="1.05"/><path d="M154.4 33.1L151.4 22.1L155.2 24.9L159.6 23.0Z" fill="#000" stroke="#000" stroke-width="0.8" stroke-linejoin="miter"/><path d="M187.8 22.1L177.0 26.5" stroke="#000" stroke-width="1.05"/><path d="M169.4 29.6L177.7 21.8L177.0 26.5L180.8 29.4Z" fill="#000" stroke="#000" stroke-width="0.8" stroke-linejoin="miter"/><path d="M213.3 26.2L199.9 25.7" stroke="#000" stroke-width="1.05"/><path d="M191.7 25.4L202.4 21.7L199.9 25.7L202.1 29.9Z" fill="#000" stroke="#000" stroke-width="0.8" stroke-linejoin="miter"/><path d="M230.6 32.4L226.5 25.8" stroke="#000" stroke-width="1.05"/><path d="M222.2 18.8L231.3 25.7L226.5 25.8L224.3 30.0Z" fill="#000" stroke="#000" stroke-width="0.8" stroke-linejoin="miter"/><path d="M241.1 23.2L252.2 27.0" stroke="#000" stroke-width="1.05"/><path d="M260.0 29.6L248.6 30.1L252.2 27.0L251.3 22.3Z" fill="#000" stroke="#000" stroke-width="0.8" stroke-linejoin="miter"/><path d="M281.7 21.0L272.1 26.4" stroke="#000" stroke-width="1.05"/><path d="M265.0 30.4L272.2 21.6L272.1 26.4L276.2 28.8Z" fill="#000" stroke="#000" stroke-width="0.8" stroke-linejoin="miter"/><path d="M303.9 31.6L297.2 25.4" stroke="#000" stroke-width="1.05"/><path d="M291.1 19.9L301.7 24.0L297.2 25.4L296.2 30.1Z" fill="#000" stroke="#000" stroke-width="0.8" stroke-linejoin="miter"/><path d="M313.9 30.7L322.1 25.0" stroke="#000" stroke-width="1.05"/><path d="M328.9 20.4L322.5 29.8L322.1 25.0L317.8 23.0Z" fill="#000" stroke="#000" stroke-width="0.8" stroke-linejoin="miter"/><path d="M338.3 20.4L345.4 26.3" stroke="#000" stroke-width="1.05"/><path d="M351.7 31.6L340.9 27.9L345.4 26.3L346.2 21.7Z" fill="#000" stroke="#000" stroke-width="0.8" stroke-linejoin="miter"/><path d="M375.0 20.4L368.4 26.2" stroke="#000" stroke-width="1.05"/><path d="M362.2 31.6L367.5 21.5L368.4 26.2L372.9 27.7Z" fill="#000" stroke="#000" stroke-width="0.8" stroke-linejoin="miter"/><path d="M399.4 20.4L391.2 27.4" stroke="#000" stroke-width="1.05"/><path d="M385.0 32.7L390.4 22.7L391.2 27.4L395.7 28.9Z" fill="#000" stroke="#000" stroke-width="0.8" stroke-linejoin="miter"/><path d="M409.4 20.4L416.9 26.5" stroke="#000" stroke-width="1.05"/><path d="M423.3 31.6L412.5 28.1L416.9 26.5L417.6 21.8Z" fill="#000" stroke="#000" stroke-width="0.8" stroke-linejoin="miter"/><path d="M432.2 22.1L441.6 26.8" stroke="#000" stroke-width="1.05"/><path d="M448.9 30.4L437.6 29.4L441.6 26.8L441.2 22.0Z" fill="#000" stroke="#000" stroke-width="0.8" stroke-linejoin="miter"/><path d="M471.7 21.0L461.6 26.5" stroke="#000" stroke-width="1.05"/><path d="M454.4 30.4L461.8 21.7L461.6 26.5L465.7 28.9Z" fill="#000" stroke="#000" stroke-width="0.8" stroke-linejoin="miter"/><path d="M497.8 24.0L484.2 25.9" stroke="#000" stroke-width="1.05"/><path d="M476.1 27.1L486.0 21.5L484.2 25.9L487.2 29.7Z" fill="#000" stroke="#000" stroke-width="0.8" stroke-linejoin="miter"/><path d="M519.4 21.0L508.9 26.6" stroke="#000" stroke-width="1.05"/><path d="M501.7 30.4L509.1 21.8L508.9 26.6L513.0 29.0Z" fill="#000" stroke="#000" stroke-width="0.8" stroke-linejoin="miter"/><path d="M528.9 20.4L535.1 26.1" stroke="#000" stroke-width="1.05"/><path d="M541.1 31.6L530.5 27.5L535.1 26.1L536.1 21.4Z" fill="#000" stroke="#000" stroke-width="0.8" stroke-linejoin="miter"/><path d="M561.7 18.8L558.6 25.3" stroke="#000" stroke-width="1.05"/><path d="M555.0 32.7L555.9 21.4L558.6 25.3L563.3 24.9Z" fill="#000" stroke="#000" stroke-width="0.8" stroke-linejoin="miter"/><path d="M592.2 23.8L579.8 25.8" stroke="#000" stroke-width="1.05"/><path d="M571.7 27.1L581.5 21.4L579.8 25.8L582.8 29.5Z" fill="#000" stroke="#000" stroke-width="0.8" stroke-linejoin="miter"/><path d="M612.8 31.0L604.9 25.2" stroke="#000" stroke-width="1.05"/><path d="M598.3 20.4L609.3 23.3L604.9 25.2L604.4 30.0Z" fill="#000" stroke="#000" stroke-width="0.8" stroke-linejoin="miter"/><path d="M630.6 32.7L629.6 26.9" stroke="#000" stroke-width="1.05"/><path d="M628.3 18.8L634.1 28.6L629.6 26.9L626.0 29.9Z" fill="#000" stroke="#000" stroke-width="0.8" stroke-linejoin="miter"/><path d="M645.0 30.4L654.6 24.8" stroke="#000" stroke-width="1.05"/><path d="M661.7 20.7L654.6 29.6L654.6 24.8L650.5 22.5Z" fill="#000" stroke="#000" stroke-width="0.8" stroke-linejoin="miter"/><path d="M666.7 24.9L679.6 25.9" stroke="#000" stroke-width="1.05"/><path d="M687.8 26.6L676.9 29.8L679.6 25.9L677.6 21.7Z" fill="#000" stroke="#000" stroke-width="0.8" stroke-linejoin="miter"/><path d="M710.6 23.2L698.0 26.3" stroke="#000" stroke-width="1.05"/><path d="M690.0 28.2L699.3 21.7L698.0 26.3L701.3 29.7Z" fill="#000" stroke="#000" stroke-width="0.8" stroke-linejoin="miter"/><path d="M733.3 29.9L722.4 24.8" stroke="#000" stroke-width="1.05"/><path d="M715.0 21.3L726.3 22.1L722.4 24.8L722.8 29.5Z" fill="#000" stroke="#000" stroke-width="0.8" stroke-linejoin="miter"/><path d="M741.1 31.6L749.1 25.4" stroke="#000" stroke-width="1.05"/><path d="M755.6 20.4L749.7 30.1L749.1 25.4L744.7 23.6Z" fill="#000" stroke="#000" stroke-width="0.8" stroke-linejoin="miter"/><path d="M767.2 32.7L770.6 26.1" stroke="#000" stroke-width="1.05"/><path d="M774.4 18.8L773.2 30.1L770.6 26.1L765.9 26.3Z" fill="#000" stroke="#000" stroke-width="0.8" stroke-linejoin="miter"/><path d="M787.2 30.4L796.8 25.0" stroke="#000" stroke-width="1.05"/><path d="M803.9 21.0L796.7 29.8L796.8 25.0L792.7 22.6Z" fill="#000" stroke="#000" stroke-width="0.8" stroke-linejoin="miter"/><path d="M818.9 32.7L819.1 27.0" stroke="#000" stroke-width="1.05"/><path d="M819.4 18.8L823.1 29.5L819.1 27.0L814.9 29.2Z" fill="#000" stroke="#000" stroke-width="0.8" stroke-linejoin="miter"/><path d="M840.7 32.3L842.6 26.7" stroke="#000" stroke-width="1.05"/><path d="M845.3 19.0L845.7 30.4L842.6 26.7L838.0 27.7Z" fill="#000" stroke="#000" stroke-width="0.8" stroke-linejoin="miter"/><path d="M108.0 317.3L107.9 324.7" stroke="#000" stroke-width="1.05"/><path d="M107.8 332.9L103.8 322.2L107.9 324.7L112.0 322.4Z" fill="#000" stroke="#000" stroke-width="0.8" stroke-linejoin="miter"/><path d="M135.8 319.6L131.2 325.7" stroke="#000" stroke-width="1.05"/><path d="M126.3 332.3L129.4 321.4L131.2 325.7L135.9 326.3Z" fill="#000" stroke="#000" stroke-width="0.8" stroke-linejoin="miter"/><path d="M165.8 327.6L152.8 325.4" stroke="#000" stroke-width="1.05"/><path d="M144.7 324.0L155.8 321.7L152.8 325.4L154.5 329.8Z" fill="#000" stroke="#000" stroke-width="0.8" stroke-linejoin="miter"/><path d="M185.8 320.7L177.9 326.4" stroke="#000" stroke-width="1.05"/><path d="M171.3 331.2L177.5 321.7L177.9 326.4L182.3 328.3Z" fill="#000" stroke="#000" stroke-width="0.8" stroke-linejoin="miter"/><path d="M211.7 322.3L200.4 326.6" stroke="#000" stroke-width="1.05"/><path d="M192.8 329.6L201.2 322.0L200.4 326.6L204.2 329.6Z" fill="#000" stroke="#000" stroke-width="0.8" stroke-linejoin="miter"/><path d="M236.1 328.2L224.1 325.3" stroke="#000" stroke-width="1.05"/><path d="M216.1 323.4L227.4 321.9L224.1 325.3L225.5 329.9Z" fill="#000" stroke="#000" stroke-width="0.8" stroke-linejoin="miter"/><path d="M258.9 329.6L248.7 325.4" stroke="#000" stroke-width="1.05"/><path d="M241.1 322.3L252.5 322.5L248.7 325.4L249.4 330.1Z" fill="#000" stroke="#000" stroke-width="0.8" stroke-linejoin="miter"/><path d="M282.8 321.8L272.4 326.6" stroke="#000" stroke-width="1.05"/><path d="M265.0 330.1L272.9 321.9L272.4 326.6L276.3 329.3Z" fill="#000" stroke="#000" stroke-width="0.8" stroke-linejoin="miter"/><path d="M307.8 324.2L295.3 326.0" stroke="#000" stroke-width="1.05"/><path d="M287.2 327.1L297.1 321.6L295.3 326.0L298.3 329.7Z" fill="#000" stroke="#000" stroke-width="0.8" stroke-linejoin="miter"/><path d="M322.8 332.3L321.6 326.4" stroke="#000" stroke-width="1.05"/><path d="M320.0 318.4L326.1 328.0L321.6 326.4L318.1 329.6Z" fill="#000" stroke="#000" stroke-width="0.8" stroke-linejoin="miter"/><path d="M348.9 331.8L345.2 326.0" stroke="#000" stroke-width="1.05"/><path d="M340.9 319.0L350.0 325.8L345.2 326.0L343.0 330.2Z" fill="#000" stroke="#000" stroke-width="0.8" stroke-linejoin="miter"/><path d="M378.9 327.9L366.3 325.4" stroke="#000" stroke-width="1.05"/><path d="M358.3 323.8L369.5 321.8L366.3 325.4L367.9 329.9Z" fill="#000" stroke="#000" stroke-width="0.8" stroke-linejoin="miter"/><path d="M402.2 328.2L390.2 325.3" stroke="#000" stroke-width="1.05"/><path d="M382.2 323.4L393.5 321.9L390.2 325.3L391.6 329.9Z" fill="#000" stroke="#000" stroke-width="0.8" stroke-linejoin="miter"/><path d="M426.7 327.3L413.7 325.6" stroke="#000" stroke-width="1.05"/><path d="M405.6 324.6L416.6 321.9L413.7 325.6L415.6 330.0Z" fill="#000" stroke="#000" stroke-width="0.8" stroke-linejoin="miter"/><path d="M449.4 328.2L437.4 325.3" stroke="#000" stroke-width="1.05"/><path d="M429.4 323.4L440.7 321.9L437.4 325.3L438.8 329.9Z" fill="#000" stroke="#000" stroke-width="0.8" stroke-linejoin="miter"/><path d="M473.9 328.2L461.3 325.5" stroke="#000" stroke-width="1.05"/><path d="M453.3 323.8L464.5 322.0L461.3 325.5L462.8 330.0Z" fill="#000" stroke="#000" stroke-width="0.8" stroke-linejoin="miter"/><path d="M496.1 322.0L485.8 326.4" stroke="#000" stroke-width="1.05"/><path d="M478.3 329.6L486.4 321.7L485.8 326.4L489.7 329.2Z" fill="#000" stroke="#000" stroke-width="0.8" stroke-linejoin="miter"/><path d="M521.7 326.4L508.2 325.5" stroke="#000" stroke-width="1.05"/><path d="M500.0 324.9L510.9 321.5L508.2 325.5L510.3 329.7Z" fill="#000" stroke="#000" stroke-width="0.8" stroke-linejoin="miter"/><path d="M540.6 331.6L533.9 324.4" stroke="#000" stroke-width="1.05"/><path d="M528.3 318.4L538.5 323.4L533.9 324.4L532.5 329.0Z" fill="#000" stroke="#000" stroke-width="0.8" stroke-linejoin="miter"/><path d="M563.3 319.6L558.4 325.9" stroke="#000" stroke-width="1.05"/><path d="M553.3 332.3L556.6 321.4L558.4 325.9L563.1 326.5Z" fill="#000" stroke="#000" stroke-width="0.8" stroke-linejoin="miter"/><path d="M592.8 325.3L579.3 325.3" stroke="#000" stroke-width="1.05"/><path d="M571.1 325.3L581.7 321.2L579.3 325.3L581.7 329.4Z" fill="#000" stroke="#000" stroke-width="0.8" stroke-linejoin="miter"/><path d="M616.7 325.3L603.2 325.3" stroke="#000" stroke-width="1.05"/><path d="M595.0 325.3L605.6 321.2L603.2 325.3L605.6 329.4Z" fill="#000" stroke="#000" stroke-width="0.8" stroke-linejoin="miter"/><path d="M640.6 325.3L627.1 325.3" stroke="#000" stroke-width="1.05"/><path d="M618.9 325.3L629.5 321.2L627.1 325.3L629.5 329.4Z" fill="#000" stroke="#000" stroke-width="0.8" stroke-linejoin="miter"/><path d="M656.1 332.3L653.7 326.3" stroke="#000" stroke-width="1.05"/><path d="M650.6 318.7L658.4 327.0L653.7 326.3L650.8 330.1Z" fill="#000" stroke="#000" stroke-width="0.8" stroke-linejoin="miter"/><path d="M674.4 332.3L676.6 326.1" stroke="#000" stroke-width="1.05"/><path d="M679.4 318.4L679.7 329.8L676.6 326.1L672.0 327.0Z" fill="#000" stroke="#000" stroke-width="0.8" stroke-linejoin="miter"/><path d="M710.0 322.0L698.7 326.3" stroke="#000" stroke-width="1.05"/><path d="M691.1 329.3L699.5 321.7L698.7 326.3L702.5 329.3Z" fill="#000" stroke="#000" stroke-width="0.8" stroke-linejoin="miter"/><path d="M735.0 324.0L722.0 325.9" stroke="#000" stroke-width="1.05"/><path d="M713.9 327.1L723.8 321.5L722.0 325.9L725.0 329.6Z" fill="#000" stroke="#000" stroke-width="0.8" stroke-linejoin="miter"/><path d="M758.9 327.9L745.8 325.4" stroke="#000" stroke-width="1.05"/><path d="M737.8 323.8L749.0 321.8L745.8 325.4L747.4 329.8Z" fill="#000" stroke="#000" stroke-width="0.8" stroke-linejoin="miter"/><path d="M777.2 331.6L771.9 325.3" stroke="#000" stroke-width="1.05"/><path d="M766.7 319.0L776.6 324.5L771.9 325.3L770.3 329.8Z" fill="#000" stroke="#000" stroke-width="0.8" stroke-linejoin="miter"/><path d="M798.9 332.3L796.2 326.5" stroke="#000" stroke-width="1.05"/><path d="M792.8 319.0L800.9 326.9L796.2 326.5L793.5 330.3Z" fill="#000" stroke="#000" stroke-width="0.8" stroke-linejoin="miter"/><path d="M823.9 331.6L819.2 325.1" stroke="#000" stroke-width="1.05"/><path d="M814.4 318.4L823.9 324.6L819.2 325.1L817.3 329.4Z" fill="#000" stroke="#000" stroke-width="0.8" stroke-linejoin="miter"/><path d="M845.6 332.3L843.7 326.8" stroke="#000" stroke-width="1.05"/><path d="M841.1 319.0L848.4 327.7L843.7 326.8L840.6 330.4Z" fill="#000" stroke="#000" stroke-width="0.8" stroke-linejoin="miter"/></svg></body></html>
